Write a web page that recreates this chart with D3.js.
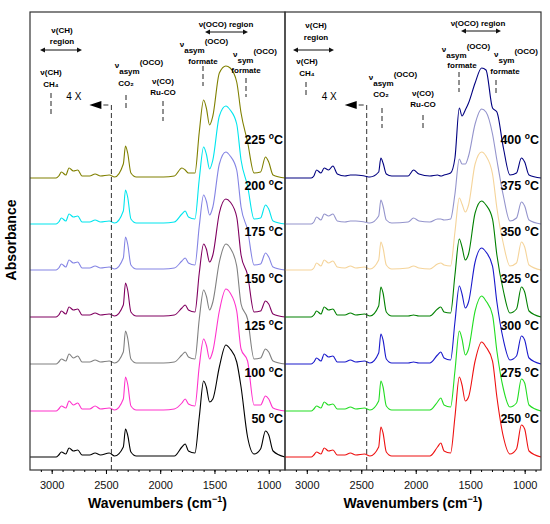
<!DOCTYPE html>
<html><head><meta charset="utf-8">
<script src="https://cdn.jsdelivr.net/npm/d3@7"></script>
<style>
body{margin:0;background:#fff;}
text{font-family:Arial,"Liberation Sans",sans-serif;}
.ann{font-size:8px;font-weight:bold;}
</style></head><body>
<div id="chart"></div>
<script>
const waves = [3200,3000,2960,2935,2910,2870,2840,2800,2760,2720,2650,2600,2550,2470,2420,2340,2320,2300,2270,2220,2070,2020,1970,1870,1800,1770,1740,1680,1640,1600,1575,1545,1515,1455,1395,1355,1295,1255,1195,1135,1075,1030,1000,960,850];

const leftTemps = ['50','100','125','150','175','200','225'];
const leftColors = ['#000000','#ff33cc','#808080','#800060','#8484e4','#00e5ee','#808000'];
const leftSpectra = [
  [0,0,0,2,5,3,9,6,7,2,2,4,2,4,1,10,28,22,5,1,1,1,1,1,10,13,6,4,40,76,70,55,58,90,112,108,95,70,20,3,8,26,22,6,0],
  [0,0,0,2,5,3,10,6,8,2,2,5,2,3,1,12,34,27,5,1,1,1,1,2,8,12,7,5,45,72,66,52,60,100,122,118,100,62,50,6,6,15,12,3,0],
  [0,0,0,2,5,3,10,6,8,2,2,4,2,3,1,12,33,26,5,1,1,1,1,2,9,12,7,5,45,74,68,54,62,102,120,116,98,60,45,5,6,15,12,3,0],
  [0,0,0,2,6,3,10,7,8,2,2,4,2,3,1,12,34,27,5,1,1,1,1,2,9,12,7,5,44,73,68,55,62,104,118,115,100,62,42,5,6,16,13,3,0],
  [0,0,0,2,6,3,10,7,8,2,2,4,2,3,1,12,33,26,5,1,1,1,1,2,9,12,7,5,44,75,69,55,63,106,118,114,100,63,40,5,6,17,13,3,0],
  [0,0,0,2,6,3,10,7,8,2,2,4,2,3,1,13,34,27,5,1,1,1,1,2,10,13,7,5,45,77,70,55,64,108,118,114,100,64,38,5,6,19,15,3,0],
  [0,0,0,2,6,3,10,7,8,2,2,4,2,3,1,14,32,25,5,1,1,1,1,2,10,8,5,5,46,78,70,53,62,105,112,110,96,65,36,5,6,21,16,3,0]
];
const rightTemps = ['250','275','300','325','350','375','400'];
const rightColors = ['#ee1111','#22dd22','#1a1acc','#008000','#f5d49a','#9494cc','#000080'];
const rightSpectra = [
  [0,0,0,2,5,3,9,6,7,2,2,4,2,3,1,10,30,24,5,1,1,1,1,1,10,14,6,4,40,80,72,56,60,96,115,110,96,60,20,3,8,32,28,6,0],
  [0,0,0,2,5,3,9,6,7,2,2,4,2,3,1,10,30,24,5,1,1,1,1,1,9,13,6,4,40,80,72,56,62,100,115,110,96,60,22,4,8,32,28,6,0],
  [0,0,0,2,6,3,10,7,8,2,2,4,2,3,1,11,30,24,5,1,1,2,1,1,9,12,6,4,42,78,70,56,62,102,116,112,98,62,24,4,8,28,24,6,0],
  [0,0,0,2,6,3,10,7,8,2,2,4,2,3,1,11,30,24,5,1,1,2,1,1,8,10,5,4,42,78,70,57,63,104,116,112,98,62,26,4,8,30,25,6,0],
  [0,0,0,2,7,4,10,7,9,3,2,4,2,3,1,10,28,22,5,1,2,4,2,1,6,7,5,4,38,72,66,58,65,106,118,114,96,62,26,4,7,28,23,5,0],
  [0,0,0,2,7,4,10,8,10,3,2,3,3,2,1,8,24,18,4,1,2,6,3,2,5,5,4,5,30,65,60,60,68,100,115,112,90,64,28,3,6,22,18,4,0],
  [0,0,0,2,8,5,10,8,12,4,2,3,3,2,1,6,20,15,4,2,2,8,4,2,3,2,3,5,20,70,62,68,75,95,110,108,70,66,30,3,5,20,16,3,0]
];
const offsets = [0,46,93,140,187,233,279];
const xTicks = [3000,2500,2000,1500,1000];

const W = 550, H = 524, topY = 12, bottomY = 470;
const svg = d3.select('#chart').append('svg').attr('width', W).attr('height', H);
const y = d3.scaleLinear().domain([0, 445]).range([457, topY]);

function panel(x0, x1, spectra, colors, temps, ann) {
  const x = d3.scaleLinear().domain([3200, 850]).range([x0, x1]);
  const g = svg.append('g');
  const line = d3.line().x((d, i) => x(waves[i])).y(d => d).curve(d3.curveMonotoneX);
  spectra.forEach((s, k) => {
    g.append('path').attr('fill', 'none').attr('stroke', colors[k]).attr('stroke-width', 1.1)
      .attr('d', line(s.map(v => y(v + offsets[k]))));
    const t = g.append('text').attr('x', x1 - 2).attr('y', y(offsets[k] + 34)).attr('text-anchor', 'end')
      .attr('font-size', 12.5).attr('font-weight', 'bold');
    t.append('tspan').text(temps[k] + ' ');
    t.append('tspan').attr('dy', -5).attr('font-size', 8.5).text('o');
    t.append('tspan').attr('dy', 5).text('C');
  });
  g.append('rect').attr('x', x0).attr('y', topY).attr('width', x1 - x0).attr('height', bottomY - topY)
    .attr('fill', 'none').attr('stroke', '#333').attr('stroke-width', 1.2);
  const ax = g.append('g').attr('transform', `translate(0,${bottomY})`)
    .call(d3.axisBottom(x).tickValues(xTicks).tickSize(4).tickFormat(d3.format('d')));
  ax.select('.domain').remove();
  ax.selectAll('text').attr('font-size', 11).attr('dy', '1.1em').attr('fill', '#111');
  g.append('g').attr('transform', `translate(0,${bottomY})`)
    .call(d3.axisBottom(x).tickValues(d3.range(3100, 850, -100)).tickSize(2).tickFormat(''))
    .select('.domain').remove();
  g.append('text').attr('x', (x0 + x1) / 2).attr('y', 508).attr('text-anchor', 'middle')
    .attr('font-size', 14).attr('font-weight', 'bold')
    .call(t => { t.append('tspan').text('Wavenumbers (cm');
      t.append('tspan').attr('dy', -6).attr('font-size', 9).text('−1');
      t.append('tspan').attr('dy', 6).text(')'); });

  // 4X marker
  const xd = x(2450);
  g.append('path').attr('d', `M${xd},${bottomY} V105 H${xd - 14}`).attr('fill', 'none')
    .attr('stroke', '#333').attr('stroke-dasharray', '5,3').attr('stroke-width', 1);
  g.append('path').attr('d', `M${xd - 10},101 L${xd - 22},105 L${xd - 10},109 Z`).attr('fill', '#000');
  g.append('text').attr('x', xd - 30).attr('y', 100).attr('text-anchor', 'end').attr('font-size', 10).text('4 X');

  ann.forEach(a => {
    const t = g.append('text').attr('class', 'ann').attr('x', a.x).attr('y', a.y).attr('text-anchor', 'middle');
    if (a.sub) {
      t.append('tspan').text('ν');
      t.append('tspan').attr('dy', 6).text(a.sub);
      t.append('tspan').attr('dy', -9).text('(OCO)');
    } else t.text(a.t);
  });
  const dash = (xx, y0, y1) => g.append('line').attr('x1', xx).attr('x2', xx).attr('y1', y0).attr('y2', y1)
    .attr('stroke', '#222').attr('stroke-dasharray', '5,3').attr('stroke-width', 1);
  const dbl = (xa, xb, yy) => {
    g.append('line').attr('x1', xa + 4).attr('x2', xb - 4).attr('y1', yy).attr('y2', yy).attr('stroke', '#111');
    g.append('path').attr('d', `M${xa},${yy} l5,-2.5 v5 Z M${xb},${yy} l-5,-2.5 v5 Z`).attr('fill', '#111');
  };
  return { x, dash, dbl };
}

const L = panel(30, 285, leftSpectra, leftColors, leftTemps, [
  {x: 62, y: 33, t: 'ν(CH)'}, {x: 62, y: 44, t: 'region'},
  {x: 51, y: 75, t: 'ν(CH)'}, {x: 51, y: 87, t: 'CH₄'},
  {x: 139, y: 68, sub: 'asym'}, {x: 126, y: 86, t: 'CO₂'},
  {x: 163, y: 84, t: 'ν(CO)'}, {x: 163, y: 95, t: 'Ru-CO'},
  {x: 226, y: 27, t: 'ν(OCO) region'},
  {x: 204, y: 47, sub: 'asym'}, {x: 203, y: 64, t: 'formate'},
  {x: 255, y: 57, sub: 'sym'}, {x: 246, y: 73, t: 'formate'}
]);
L.dbl(40, 82, 50); L.dbl(205, 248, 32);
L.dash(51, 93, 117); L.dash(126, 95, 110); L.dash(163, 101, 121); L.dash(203, 66, 86); L.dash(246, 78, 97);

const R = panel(285, 541, rightSpectra, rightColors, rightTemps, [
  {x: 316, y: 28, t: 'ν(CH)'}, {x: 316, y: 40, t: 'region'},
  {x: 307, y: 64, t: 'ν(CH)'}, {x: 307, y: 76, t: 'CH₄'},
  {x: 393, y: 80, sub: 'asym'}, {x: 381, y: 97, t: 'CO₂'},
  {x: 423, y: 96, t: 'ν(CO)'}, {x: 423, y: 107, t: 'Ru-CO'},
  {x: 478, y: 26, t: 'ν(OCO) region'},
  {x: 466, y: 52, sub: 'asym'}, {x: 462, y: 68, t: 'formate'},
  {x: 516, y: 57, sub: 'sym'}, {x: 505, y: 74, t: 'formate'}
]);
R.dbl(293, 334, 50); R.dbl(461, 501, 31);
R.dash(306, 82, 98); R.dash(382, 108, 128); R.dash(423, 115, 131); R.dash(459, 72, 92); R.dash(496, 80, 96);

svg.append('text').attr('transform', 'translate(16,240) rotate(-90)').attr('text-anchor', 'middle')
  .attr('font-size', 14).attr('font-weight', 'bold').text('Absorbance');
</script></body></html>
